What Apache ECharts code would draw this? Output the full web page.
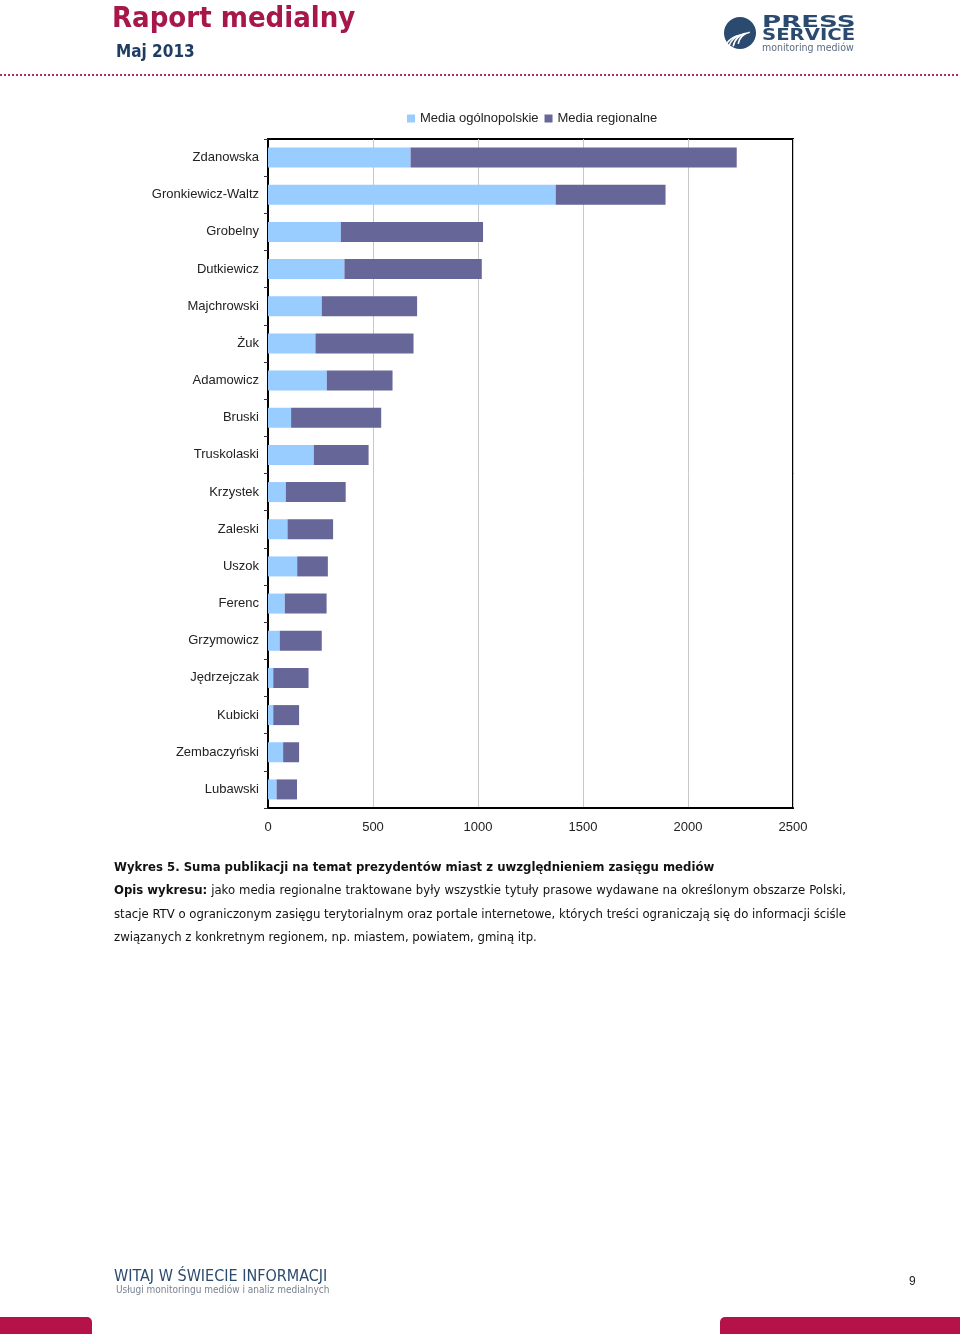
<!DOCTYPE html>
<html>
<head>
<meta charset="utf-8">
<script src="https://cdn.jsdelivr.net/npm/echarts@6/dist/echarts.min.js"></script>
<style>
html,body{margin:0;padding:0;background:#fff;}
#c{width:960px;height:1334px;}
</style>
</head>
<body>
<div id="c"></div>
<script>
// ---- data ----
var categories = ['Zdanowska','Gronkiewicz-Waltz','Grobelny','Dutkiewicz','Majchrowski','Żuk','Adamowicz','Bruski','Truskolaski','Krzystek','Zaleski','Uszok','Ferenc','Grzymowicz','Jędrzejczak','Kubicki','Zembaczyński','Lubawski'];
var national = [679,1370,347,364,256,226,280,110,218,85,93,139,80,56,25,25,72,41];
var regional = [1553,523,677,654,454,467,313,429,261,285,217,146,199,200,168,123,76,97];
var seriesNames = ['Media ogólnopolskie','Media regionalne'];
var xTicks = [0,500,1000,1500,2000,2500];

var titleText = 'Raport medialny';
var dateText = 'Maj 2013';
var captionTitle = 'Wykres 5. Suma publikacji na temat prezydentów miast z uwzględnieniem zasięgu mediów';
var captionLines = [
  [['b','Opis wykresu:'],['r','jako media regionalne traktowane były wszystkie tytuły prasowe wydawane na określonym obszarze Polski,']],
  [['r','stacje RTV o ograniczonym zasięgu terytorialnym oraz portale internetowe, których treści ograniczają się do informacji ściśle']],
  [['r','związanych z konkretnym regionem, np. miastem, powiatem, gminą itp.']]
];
var footerTitle = 'WITAJ W ŚWIECIE INFORMACJI';
var footerSub = 'Usługi monitoringu mediów i analiz medialnych';
var pageNo = '9';

var CRIMSON = '#A8174A';
var NAVY = '#1F3D63';
var capFont = '"DejaVu Sans Condensed", "DejaVu Sans", sans-serif';
var capSize = 13;

var mctx = document.createElement('canvas').getContext('2d');
function mw(txt, bold){
  mctx.font = (bold ? 'bold ' : '') + capSize + 'px ' + capFont;
  return mctx.measureText(txt).width;
}

var graphics = [];
// header
graphics.push({type:'text', left:112, top:5, style:{text:titleText, fill:CRIMSON, font:'bold 29px "DejaVu Sans Condensed", sans-serif'}});
graphics.push({type:'text', left:116, top:44, style:{text:dateText, fill:NAVY, font:'bold 17px "DejaVu Sans Condensed", sans-serif'}});
graphics.push({type:'line', shape:{x1:0,y1:75,x2:960,y2:75}, style:{stroke:'#A8306A', lineWidth:2, lineDash:[2,2]}});
// logo
graphics.push({type:'circle', shape:{cx:740, cy:33, r:16}, style:{fill:'#2B4A70'}});
for (var i=0;i<4;i++){
  graphics.push({type:'arc', shape:{cx:752 - i*3, cy:46 + i*3, r:14 + i*2, startAngle:Math.PI*1.05, endAngle:Math.PI*1.45}, style:{stroke:'#fff', lineWidth:1.6, fill:null}});
}
graphics.push({type:'text', x:762, y:16, scaleX:1.74, style:{text:'PRESS', fill:'#2B4A70', font:'900 15px "DejaVu Sans", sans-serif', verticalAlign:'top'}});
graphics.push({type:'text', x:762, y:29, scaleX:1.31, style:{text:'SERVICE', fill:'#2B4A70', font:'900 15px "DejaVu Sans", sans-serif', verticalAlign:'top'}});
graphics.push({type:'text', left:762, top:43, style:{text:'monitoring mediów', fill:'#5A6B80', font:'10.5px "DejaVu Sans Condensed", sans-serif'}});

// caption
graphics.push({type:'text', left:114, top:861, style:{text:captionTitle, fill:'#111', font:'bold '+capSize+'px '+capFont}});
var lineYs = [884, 908, 931];
var xL = 114, xR = 846;
captionLines.forEach(function(segs, li){
  var words = [];
  segs.forEach(function(s){
    s[1].split(' ').forEach(function(w){ words.push({t:w, b:s[0]==='b'}); });
  });
  var justify = li < captionLines.length - 1;
  var total = 0; words.forEach(function(w){ w.w = mw(w.t, w.b); total += w.w; });
  var gap = justify ? (xR - xL - total) / (words.length - 1) : mw(' ', false);
  var x = xL;
  words.forEach(function(w){
    graphics.push({type:'text', x:x, y:lineYs[li], style:{text:w.t, fill:'#111', font:(w.b?'bold ':'')+capSize+'px '+capFont}});
    x += w.w + gap;
  });
});

// footer
graphics.push({type:'text', left:114, top:1269, style:{text:footerTitle, fill:'#2C4A6E', font:'16px "DejaVu Sans Condensed", sans-serif'}});
graphics.push({type:'text', left:116, top:1285, style:{text:footerSub, fill:'#7A8290', font:'10px "DejaVu Sans Condensed", sans-serif'}});
graphics.push({type:'text', left:909, top:1276, style:{text:pageNo, fill:'#222', font:'12px "Liberation Sans", Arial, sans-serif'}});
graphics.push({type:'rect', shape:{x:-10, y:1317, width:102, height:30, r:[0,5,0,0]}, style:{fill:'#B5124A'}});
graphics.push({type:'rect', shape:{x:720, y:1317, width:250, height:30, r:[5,0,0,0]}, style:{fill:'#B5124A'}});

var chart = echarts.init(document.getElementById('c'), null, {renderer:'canvas'});
var labelFont = {fontFamily:'"Liberation Sans", Arial, sans-serif', fontSize:13, color:'#222'};
chart.setOption({
  animation:false,
  backgroundColor:'#fff',
  legend:{
    data:seriesNames, left:407, top:112, itemWidth:8, itemHeight:8, itemGap:6,
    icon:'rect', textStyle:Object.assign({}, labelFont, {fontSize:13}), padding:0
  },
  grid:{left:268, right:167, top:139, bottom:526, show:true, borderColor:'#000', borderWidth:2, backgroundColor:'transparent', containLabel:false},
  xAxis:{
    type:'value', min:xTicks[0], max:xTicks[xTicks.length-1], interval:500,
    axisLine:{show:true, lineStyle:{color:'#000', width:2}},
    axisTick:{show:false},
    splitLine:{show:true, lineStyle:{color:'#C8C8C8', width:1}},
    axisLabel:Object.assign({margin:13, formatter:function(v){return String(v);}}, labelFont)
  },
  yAxis:{
    type:'category', data:categories, inverse:true,
    axisLine:{show:true, lineStyle:{color:'#000', width:2}},
    axisTick:{show:true, length:4, lineStyle:{color:'#333'}},
    axisLabel:Object.assign({margin:9}, labelFont)
  },
  series:[
    {name:seriesNames[0], type:'bar', stack:'t', data:national, barWidth:20, itemStyle:{color:'#99CCFF'}},
    {name:seriesNames[1], type:'bar', stack:'t', data:regional, barWidth:20, itemStyle:{color:'#666699'}}
  ],
  graphic:graphics
});
</script>
</body>
</html>
